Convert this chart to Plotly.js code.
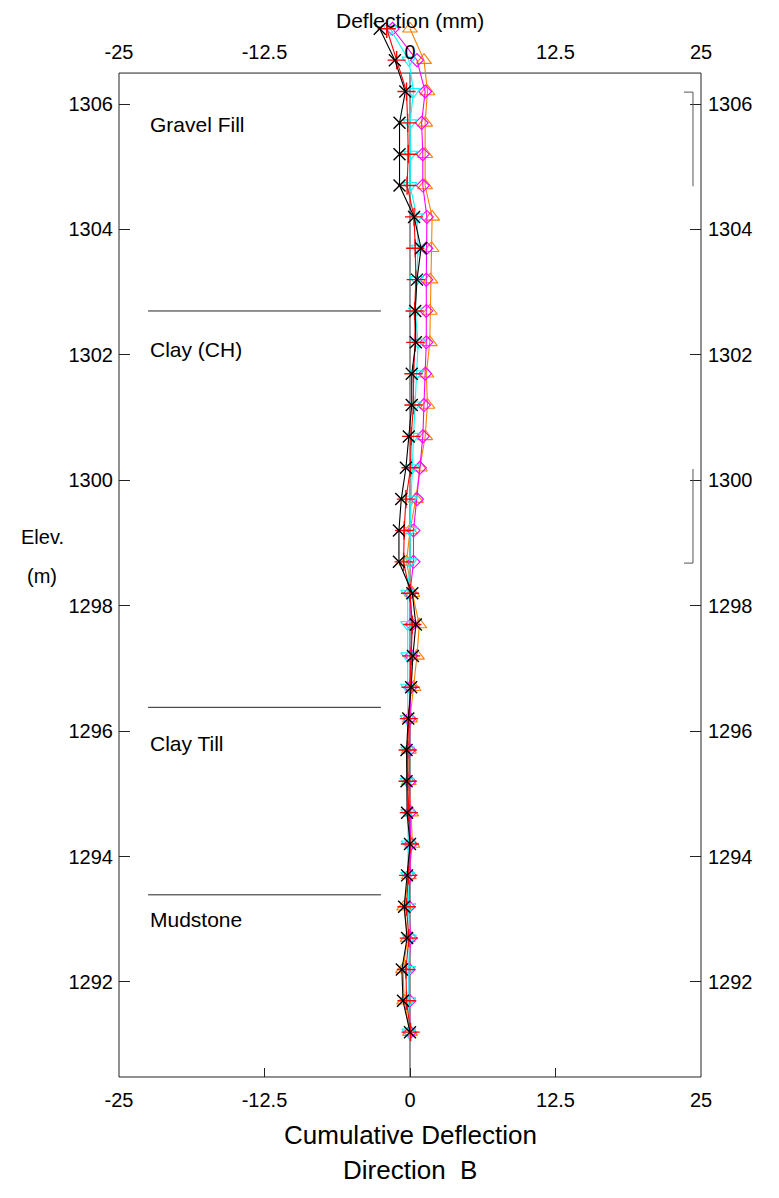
<!DOCTYPE html>
<html>
<head>
<meta charset="utf-8">
<script src="https://cdn.plot.ly/plotly-3.0.1.min.js"></script>
<style>
html,body{margin:0;padding:0;background:#fff;}
#chart{width:779px;height:1198px;}
</style>
</head>
<body>
<div id="chart"></div>
<script>
// Elevations of readings (m), top to bottom
const elevations = [1307.2, 1306.7, 1306.2, 1305.7, 1305.2, 1304.7, 1304.2, 1303.7, 1303.2, 1302.7,
  1302.2, 1301.7, 1301.2, 1300.7, 1300.2, 1299.7, 1299.2, 1298.7, 1298.2, 1297.7,
  1297.2, 1296.7, 1296.2, 1295.7, 1295.2, 1294.7, 1294.2, 1293.7, 1293.2, 1292.7,
  1292.2, 1291.7, 1291.2];

// Cumulative deflection (mm), Direction B, per reading set
const setOrange = [0.0, 1.2, 1.5, 1.3, 1.3, 1.3, 1.9, 1.85, 1.75, 1.7,
  1.7, 1.4, 1.5, 1.3, 0.85, 0.5, 0.0, -0.3, 0.2, 0.8,
  0.6, 0.3, 0.0, -0.1, -0.1, 0.1, 0.2, -0.1, -0.5, -0.2,
  -0.6, -0.5, 0.0];
const setMagenta = [-1.5, 0.6, 1.3, 1.0, 1.1, 1.1, 1.45, 1.4, 1.4, 1.4,
  1.4, 1.3, 1.2, 1.1, 0.85, 0.6, 0.3, 0.3, 0.0, 0.15,
  0.1, 0.05, -0.05, -0.05, -0.05, 0.0, 0.05, 0.0, -0.1, 0.05,
  -0.1, -0.05, 0.0];
const setCyan = [-1.7, -0.1, 0.3, 0.0, 0.05, 0.0, 0.6, 0.7, 0.55, 0.45,
  0.7, 0.55, 0.4, 0.3, 0.2, 0.1, 0.0, 0.0, -0.2, -0.2,
  -0.2, -0.2, -0.25, -0.2, -0.25, -0.2, -0.15, -0.2, -0.1, -0.05,
  -0.1, -0.1, -0.1];
const setRed = [-2.0, -1.15, -0.3, -0.2, -0.15, -0.25, 0.35, 0.45, 0.5, 0.4,
  0.45, 0.3, 0.3, 0.1, 0.05, -0.35, -0.5, -0.55, 0.0, 0.2,
  0.1, 0.05, -0.1, -0.2, -0.2, -0.1, 0.0, -0.15, -0.3, -0.1,
  -0.35, -0.3, 0.05];
const setBlack = [-2.6, -1.3, -0.4, -0.9, -0.9, -0.9, 0.35, 0.95, 0.6, 0.45,
  0.5, 0.15, 0.15, -0.1, -0.35, -0.75, -0.95, -0.95, 0.2, 0.5,
  0.25, 0.1, -0.15, -0.3, -0.3, -0.25, 0.0, -0.25, -0.5, -0.25,
  -0.7, -0.6, 0.0];

// Axis ticks
const xTickVals = [-25, -12.5, 0, 12.5, 25];
const xTickText = ['-25', '-12.5', '0', '12.5', '25'];
const yTickVals = [1292, 1294, 1296, 1298, 1300, 1302, 1304, 1306];

// Soil layers
const layerNames = ['Gravel Fill', 'Clay (CH)', 'Clay Till', 'Mudstone'];
const layerLabelElev = [1305.68, 1302.08, 1295.8, 1292.99];
const layerBoundaryElev = [1302.7, 1296.38, 1293.39];
const layerLineX = [-22.5, -2.5];

// Right-side bracket ranges (elev top, elev bottom)
const bracketTops = [1306.19, 1300.18];
const bracketBottoms = [1304.69, 1298.68];
const bracketTickAt = ['top', 'bottom'];

const FONT = 'Liberation Sans, Arial, sans-serif';
const yRange = [1290.485, 1307.34];
const frameTopElev = 1306.494;
const frameFrac = (frameTopElev - yRange[0]) / (yRange[1] - yRange[0]);

function series(name, x, color, symbol, size, lw, xa, ya) {
  return {
    type: 'scatter', mode: 'lines+markers', name: name,
    x: x, y: elevations, xaxis: xa, yaxis: ya,
    line: {color: color, width: 1.1},
    marker: {symbol: symbol, size: size, color: color, line: {color: color, width: lw}},
    cliponaxis: false, showlegend: false, hoverinfo: 'x+y'
  };
}

const traces = [
  series('Set 5', setOrange, '#ff7f00', 'triangle-up-open', 13, 1.1, 'x', 'y'),
  series('Set 4', setMagenta, '#ff00ff', 'diamond-open', 10, 1.1, 'x', 'y'),
  series('Set 3', setCyan, '#00ffff', 'triangle-down-open', 12, 1.1, 'x', 'y'),
  series('Set 2', setRed, '#ff0000', 'cross-thin-open', 13, 1.4, 'x', 'y'),
  series('Set 1', setBlack, '#000000', 'x-thin-open', 12, 1.4, 'x2', 'y2')
];

const shapes = [];
// frame
shapes.push({type: 'rect', xref: 'paper', yref: 'paper', x0: 0, x1: 1, y0: 0, y1: frameFrac,
  line: {color: '#222', width: 1}, layer: 'below'});
// zero line
shapes.push({type: 'line', xref: 'x', yref: 'paper', x0: 0, x1: 0, y0: 0, y1: frameFrac,
  line: {color: '#333', width: 1}, layer: 'below'});
// layer boundaries
layerBoundaryElev.forEach(e => shapes.push({type: 'line', xref: 'x', yref: 'y',
  x0: layerLineX[0], x1: layerLineX[1], y0: e, y1: e, line: {color: '#222', width: 1}, layer: 'below'}));
// brackets
for (let i = 0; i < bracketTops.length; i++) {
  shapes.push({type: 'line', xref: 'x', yref: 'y', x0: 24.31, x1: 24.31,
    y0: bracketBottoms[i], y1: bracketTops[i], line: {color: '#555', width: 1}});
  const e = bracketTickAt[i] === 'top' ? bracketTops[i] : bracketBottoms[i];
  shapes.push({type: 'line', xref: 'x', yref: 'y', x0: 23.54, x1: 24.31,
    y0: e, y1: e, line: {color: '#555', width: 1}});
}

const annotations = [];
layerNames.forEach((n, i) => annotations.push({text: n, xref: 'x', yref: 'y', x: layerLineX[0], y: layerLabelElev[i],
  xanchor: 'left', yanchor: 'middle', showarrow: false, font: {family: FONT, size: 21, color: '#000'}}));
annotations.push({text: 'Deflection (mm)', xref: 'paper', yref: 'paper', x: 0.5, y: 1, xanchor: 'center', yanchor: 'middle',
  showarrow: false, font: {family: FONT, size: 21, color: '#000'}});
annotations.push({text: 'Cumulative Deflection', xref: 'paper', yref: 'paper', x: 0.5, y: (1077 - 1135) / 1057,
  xanchor: 'center', yanchor: 'middle', showarrow: false, font: {family: FONT, size: 26, color: '#000'}});
annotations.push({text: 'Direction\u00a0\u00a0B', xref: 'paper', yref: 'paper', x: 0.5, y: (1077 - 1170) / 1057,
  xanchor: 'center', yanchor: 'middle', showarrow: false, font: {family: FONT, size: 26, color: '#000'}});
annotations.push({text: 'Elev.', xref: 'paper', yref: 'paper', x: (42 - 119) / 582, y: (1077 - 537) / 1057,
  xanchor: 'center', yanchor: 'middle', showarrow: false, font: {family: FONT, size: 20, color: '#000'}});
annotations.push({text: '(m)', xref: 'paper', yref: 'paper', x: (42 - 119) / 582, y: (1077 - 576) / 1057,
  xanchor: 'center', yanchor: 'middle', showarrow: false, font: {family: FONT, size: 20, color: '#000'}});

const tickFont = {family: FONT, size: 20, color: '#000'};
const layout = {
  width: 779, height: 1198,
  margin: {l: 119, r: 78, t: 20, b: 121, pad: 0},
  paper_bgcolor: '#fff', plot_bgcolor: '#fff',
  showlegend: false,
  xaxis: {range: [-25, 25], tickvals: xTickVals, ticktext: xTickText, ticks: 'inside', ticklen: 9,
    tickcolor: '#222', showgrid: false, zeroline: false, showline: false, tickfont: tickFont,
    ticklabelstandoff: 9},
  xaxis2: {range: [-25, 25], overlaying: 'x', side: 'top', anchor: 'free', position: frameFrac,
    tickvals: xTickVals, ticktext: xTickText, ticks: '', showgrid: false, zeroline: false, showline: false,
    tickfont: tickFont, ticklabelstandoff: 10},
  yaxis: {range: yRange, tickvals: yTickVals, ticks: 'inside', ticklen: 11, tickcolor: '#222',
    showgrid: false, zeroline: false, showline: false, tickfont: tickFont, ticklabelstandoff: 5},
  yaxis2: {range: yRange, overlaying: 'y', side: 'right', anchor: 'x', tickvals: yTickVals, ticks: 'inside', ticklen: 11,
    tickcolor: '#222', showgrid: false, zeroline: false, showline: false, tickfont: tickFont, ticklabelstandoff: 6},
  shapes: shapes,
  annotations: annotations
};

Plotly.newPlot('chart', traces, layout, {staticPlot: true, displayModeBar: false});
</script>
</body>
</html>
